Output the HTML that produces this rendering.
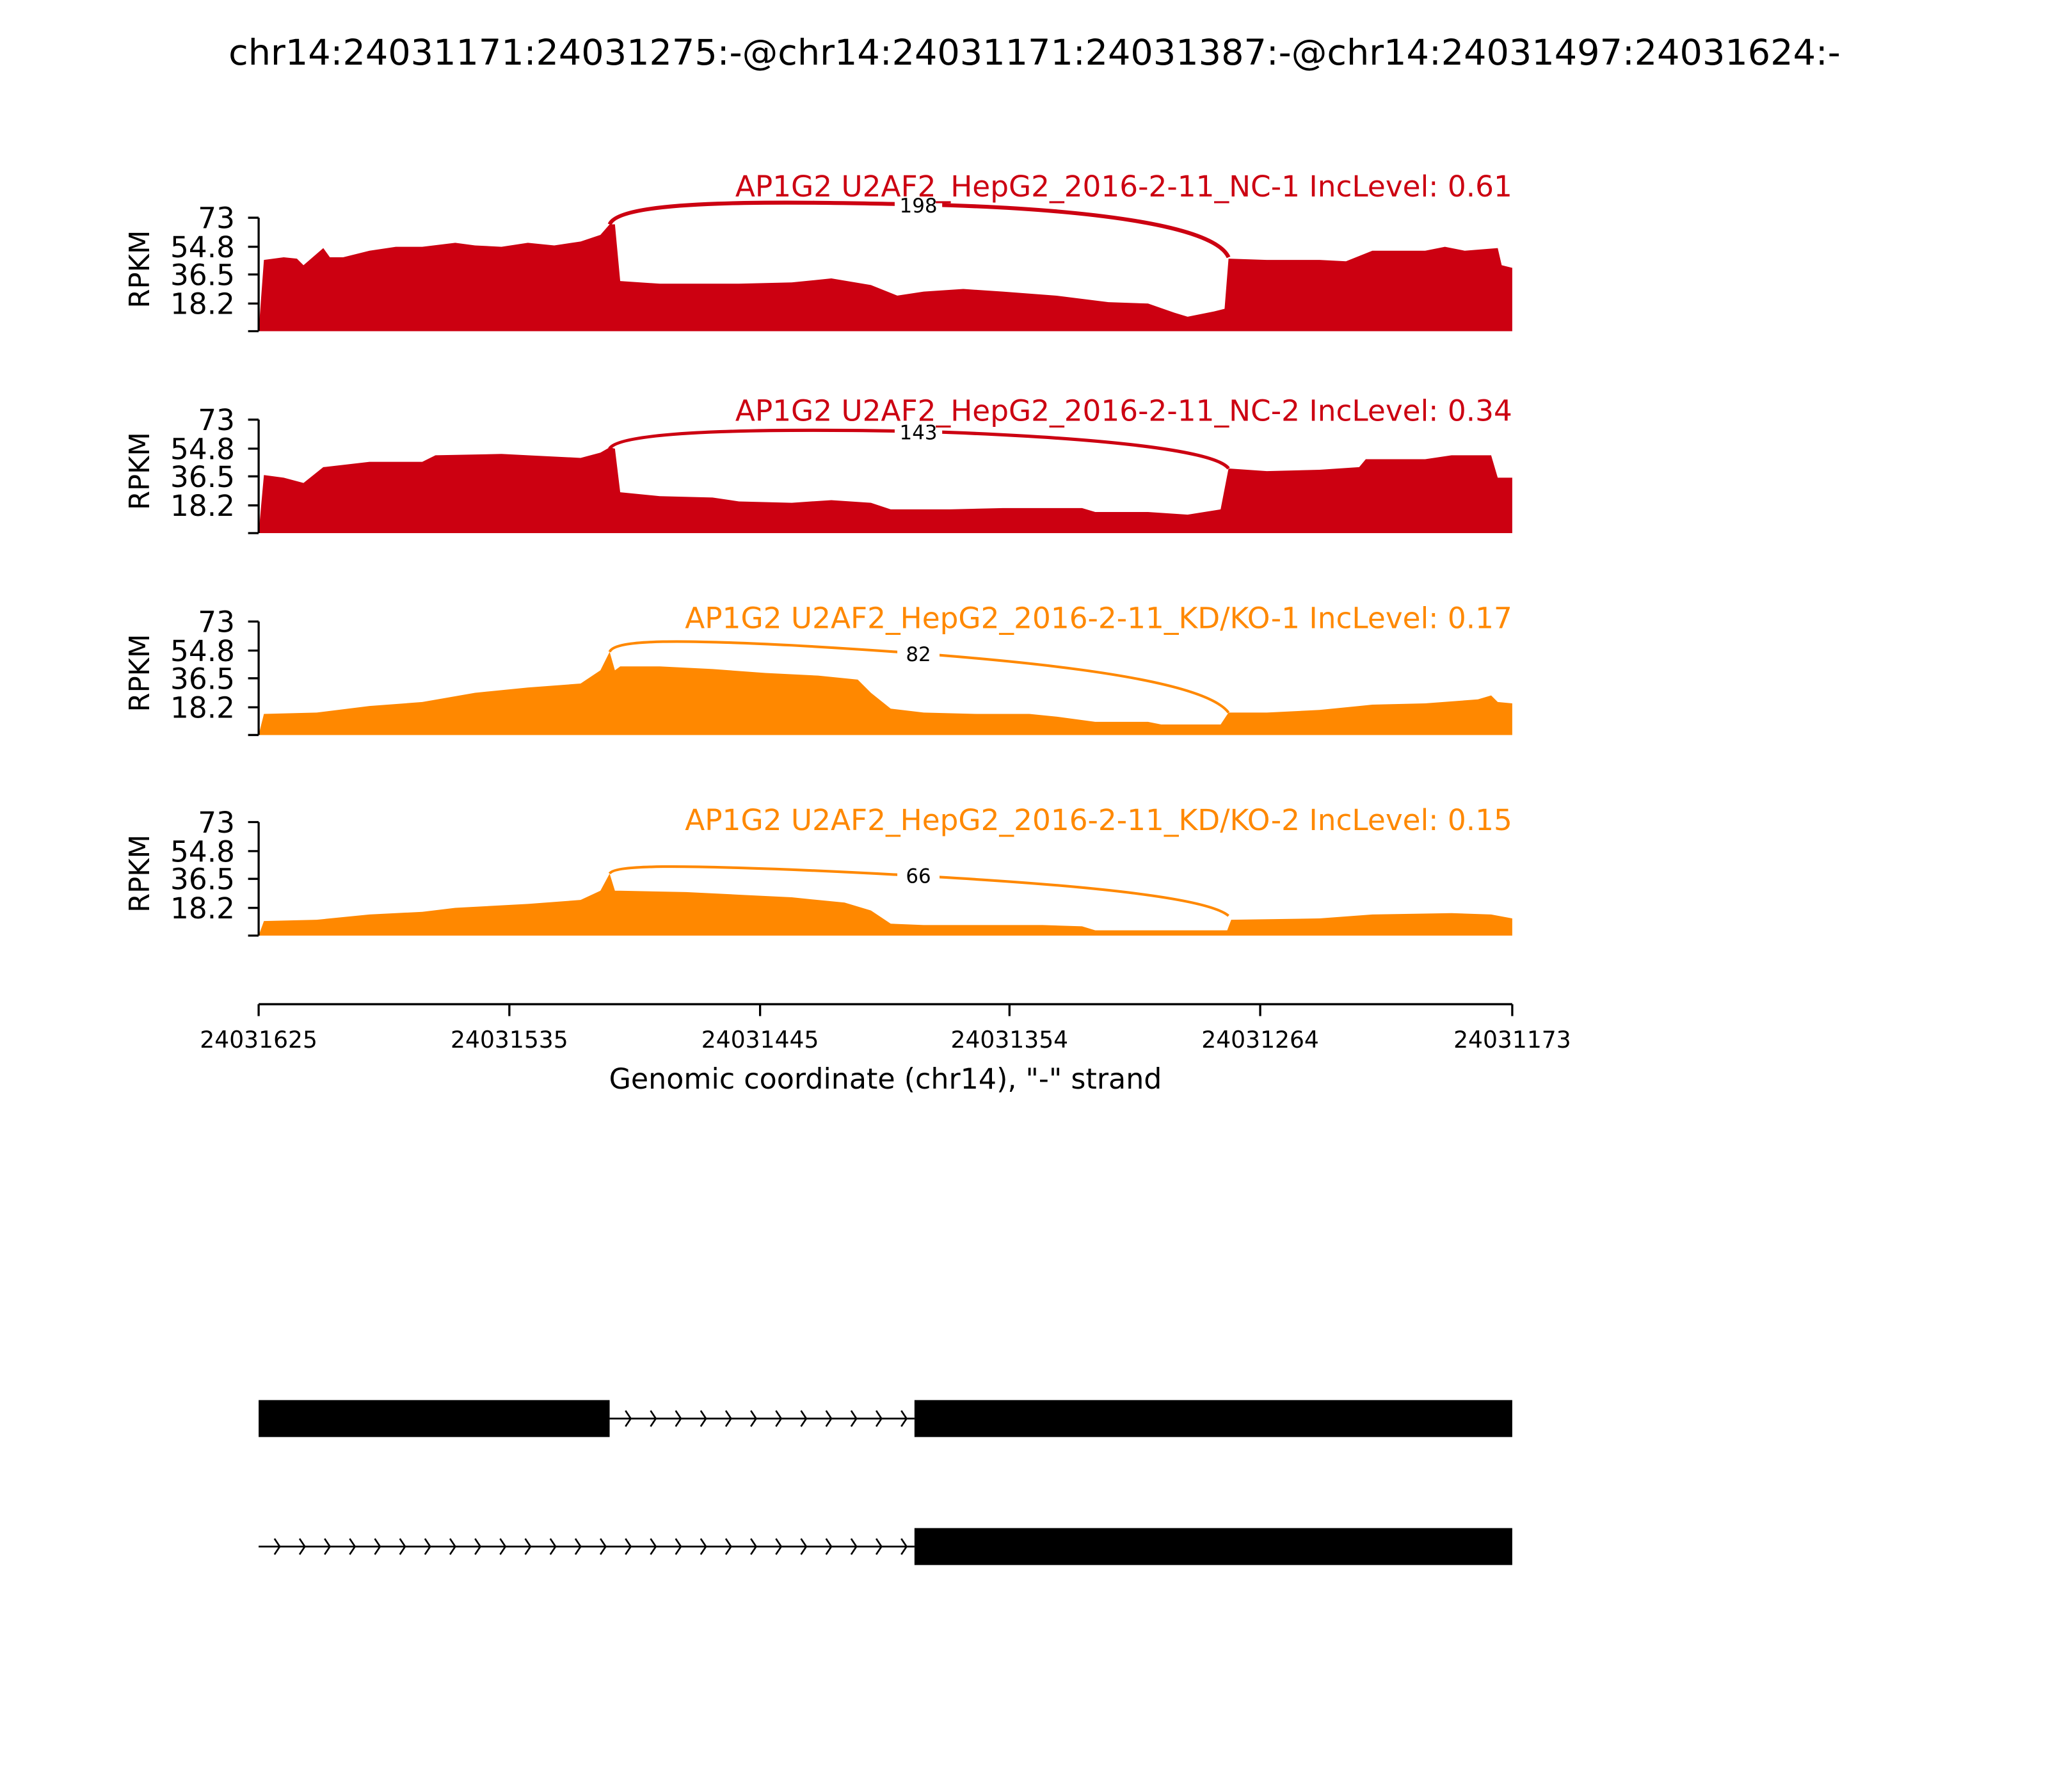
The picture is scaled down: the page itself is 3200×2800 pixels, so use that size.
<!DOCTYPE html>
<html><head><meta charset="utf-8"><style>html,body{margin:0;padding:0;background:#fff}svg{display:block}</style></head>
<body>
<svg width="3200" height="2800" viewBox="0 0 1552 1358" preserveAspectRatio="none" xmlns="http://www.w3.org/2000/svg" font-family="'DejaVu Sans','Liberation Sans',sans-serif">
<text x="784" y="49" font-size="27" text-anchor="middle">chr14:24031171:24031275:-@chr14:24031171:24031387:-@chr14:24031497:24031624:-</text>

<!-- Panel 1 -->
<g>
<path fill="#cc0011" d="M196,251 L200,197 L215,195 L225,196 L230,201 L245,188 L250,195 L260,195 L280,190 L300,187 L320,187 L345,184 L360,186 L380,187 L400,184 L420,186 L440,183 L455,178 L462,170 L466,170 L470,213 L500,215 L560,215 L600,214 L630,211 L660,216 L680,224 L700,221 L730,219 L760,221 L800,224 L840,229 L870,230 L890,237 L900,240 L920,236 L928,234 L931,196 L960,197 L1000,197 L1020,198 L1040,190 L1080,190 L1095,187 L1110,190 L1135,188 L1138,201 L1146,203 L1146,251 Z"/>
<path d="M462,170 C470,150 600,153 700,155 C820,158 920,170 931,195" fill="none" stroke="#cc0011" stroke-width="3"/>
<rect x="678" y="148" width="36" height="16" fill="#fff"/>
<text x="696" y="161" font-size="15" text-anchor="middle">198</text>
<text x="1146" y="149" font-size="22" fill="#cc0011" text-anchor="end">AP1G2 U2AF2_HepG2_2016-2-11_NC-1 IncLevel: 0.61</text>
</g>
<!-- Panel 2 -->
<g>
<path fill="#cc0011" d="M196,404 L200,360 L215,362 L230,366 L245,354 L280,350 L320,350 L330,345 L380,344 L400,345 L440,347 L455,343 L462,339 L466,340 L470,373 L500,376 L540,377 L560,380 L600,381 L630,379 L660,381 L675,386 L720,386 L760,385 L820,385 L830,388 L870,388 L900,390 L925,386 L931,355 L960,357 L1000,356 L1030,354 L1035,348 L1080,348 L1100,345 L1130,345 L1135,362 L1146,362 L1146,404 Z"/>
<path d="M462,340 C470,325 600,325 700,327 C820,331 920,340 931,355" fill="none" stroke="#cc0011" stroke-width="2.5"/>
<rect x="678" y="320" width="36" height="16" fill="#fff"/>
<text x="696" y="333" font-size="15" text-anchor="middle">143</text>
<text x="1146" y="319" font-size="22" fill="#cc0011" text-anchor="end">AP1G2 U2AF2_HepG2_2016-2-11_NC-2 IncLevel: 0.34</text>
</g>
<!-- Panel 3 -->
<g>
<path fill="#ff8800" d="M196,557 L200,541 L240,540 L280,535 L320,532 L360,525 L400,521 L440,518 L455,508 L462,494 L466,508 L470,505 L500,505 L540,507 L580,510 L620,512 L650,515 L660,525 L675,537 L700,540 L740,541 L780,541 L800,543 L830,547 L870,547 L880,549 L925,549 L931,540 L960,540 L1000,538 L1030,535 L1040,534 L1080,533 L1120,530 L1130,527 L1135,532 L1146,533 L1146,557 Z"/>
<path d="M462,494 C466,484 520,485 600,489 C760,498 910,512 931,540" fill="none" stroke="#ff8800" stroke-width="2"/>
<rect x="680" y="488" width="32" height="16" fill="#fff"/>
<text x="696" y="501" font-size="15" text-anchor="middle">82</text>
<text x="1146" y="476" font-size="22" fill="#ff8800" text-anchor="end">AP1G2 U2AF2_HepG2_2016-2-11_KD/KO-1 IncLevel: 0.17</text>
</g>
<!-- Panel 4 -->
<g>
<path fill="#ff8800" d="M196,709 L200,698 L240,697 L280,693 L320,691 L345,688 L400,685 L440,682 L455,675 L462,662 L466,675 L470,675 L520,676 L560,678 L600,680 L640,684 L660,690 L675,700 L700,701 L740,701 L790,701 L820,702 L830,705 L880,705 L930,705 L933,697 L1000,696 L1040,693 L1100,692 L1130,693 L1146,696 L1146,709 Z"/>
<path d="M462,662 C466,655 520,656 600,659 C760,666 910,676 931,694" fill="none" stroke="#ff8800" stroke-width="2"/>
<rect x="680" y="656" width="32" height="16" fill="#fff"/>
<text x="696" y="669" font-size="15" text-anchor="middle">66</text>
<text x="1146" y="629" font-size="22" fill="#ff8800" text-anchor="end">AP1G2 U2AF2_HepG2_2016-2-11_KD/KO-2 IncLevel: 0.15</text>
</g>

<!-- y axes -->
<g stroke="#000" stroke-width="1.6" fill="none">
<path d="M196,165 V251 M188,165 H196 M188,187 H196 M188,208 H196 M188,230 H196 M188,251 H196"/>
<path d="M196,318 V404 M188,318 H196 M188,340 H196 M188,361 H196 M188,383 H196 M188,404 H196"/>
<path d="M196,471 V557 M188,471 H196 M188,493 H196 M188,514 H196 M188,536 H196 M188,557 H196"/>
<path d="M196,623 V709 M188,623 H196 M188,645 H196 M188,666 H196 M188,688 H196 M188,709 H196"/>
</g>
<g font-size="22" text-anchor="end">
<text x="178" y="173">73</text><text x="178" y="195">54.8</text><text x="178" y="216">36.5</text><text x="178" y="238">18.2</text>
<text x="178" y="326">73</text><text x="178" y="348">54.8</text><text x="178" y="369">36.5</text><text x="178" y="391">18.2</text>
<text x="178" y="479">73</text><text x="178" y="501">54.8</text><text x="178" y="522">36.5</text><text x="178" y="544">18.2</text>
<text x="178" y="631">73</text><text x="178" y="653">54.8</text><text x="178" y="674">36.5</text><text x="178" y="696">18.2</text>
</g>
<g font-size="21" text-anchor="middle">
<text transform="translate(113,204) rotate(-90)">RPKM</text>
<text transform="translate(113,357) rotate(-90)">RPKM</text>
<text transform="translate(113,510) rotate(-90)">RPKM</text>
<text transform="translate(113,662) rotate(-90)">RPKM</text>
</g>

<!-- x axis -->
<g stroke="#000" stroke-width="1.6" fill="none">
<path d="M196,761 H1146 M196,761 V770 M386,761 V770 M576,761 V770 M765,761 V770 M955,761 V770 M1146,761 V770"/>
</g>
<g font-size="17.5" text-anchor="middle">
<text x="196" y="794">24031625</text><text x="386" y="794">24031535</text><text x="576" y="794">24031445</text>
<text x="765" y="794">24031354</text><text x="955" y="794">24031264</text><text x="1146" y="794">24031173</text>
</g>
<text x="671" y="825" font-size="21.5" text-anchor="middle">Genomic coordinate (chr14), "-" strand</text>

<!-- gene structure -->
<rect x="196" y="1061" width="266" height="28" fill="#000"/>
<line x1="462" y1="1075" x2="693" y2="1075" stroke="#000" stroke-width="1.3"/>
<path fill="none" stroke="#000" stroke-width="1.3" d="M474,1069 l4,6 l-4,6 m19,-12 l4,6 l-4,6 m19,-12 l4,6 l-4,6 m19,-12 l4,6 l-4,6 m19,-12 l4,6 l-4,6 m19,-12 l4,6 l-4,6 m19,-12 l4,6 l-4,6 m19,-12 l4,6 l-4,6 m19,-12 l4,6 l-4,6 m19,-12 l4,6 l-4,6 m19,-12 l4,6 l-4,6 m19,-12 l4,6 l-4,6"/>
<rect x="693" y="1061" width="453" height="28" fill="#000"/>

<line x1="196" y1="1172" x2="693" y2="1172" stroke="#000" stroke-width="1.3"/>
<path fill="none" stroke="#000" stroke-width="1.3" d="M208,1166 l4,6 l-4,6 m19,-12 l4,6 l-4,6 m19,-12 l4,6 l-4,6 m19,-12 l4,6 l-4,6 m19,-12 l4,6 l-4,6 m19,-12 l4,6 l-4,6 m19,-12 l4,6 l-4,6 m19,-12 l4,6 l-4,6 m19,-12 l4,6 l-4,6 m19,-12 l4,6 l-4,6 m19,-12 l4,6 l-4,6 m19,-12 l4,6 l-4,6 m19,-12 l4,6 l-4,6 m19,-12 l4,6 l-4,6 m19,-12 l4,6 l-4,6 m19,-12 l4,6 l-4,6 m19,-12 l4,6 l-4,6 m19,-12 l4,6 l-4,6 m19,-12 l4,6 l-4,6 m19,-12 l4,6 l-4,6 m19,-12 l4,6 l-4,6 m19,-12 l4,6 l-4,6 m19,-12 l4,6 l-4,6 m19,-12 l4,6 l-4,6 m19,-12 l4,6 l-4,6 m19,-12 l4,6 l-4,6"/>
<rect x="693" y="1158" width="453" height="28" fill="#000"/>
</svg>
</body></html>
